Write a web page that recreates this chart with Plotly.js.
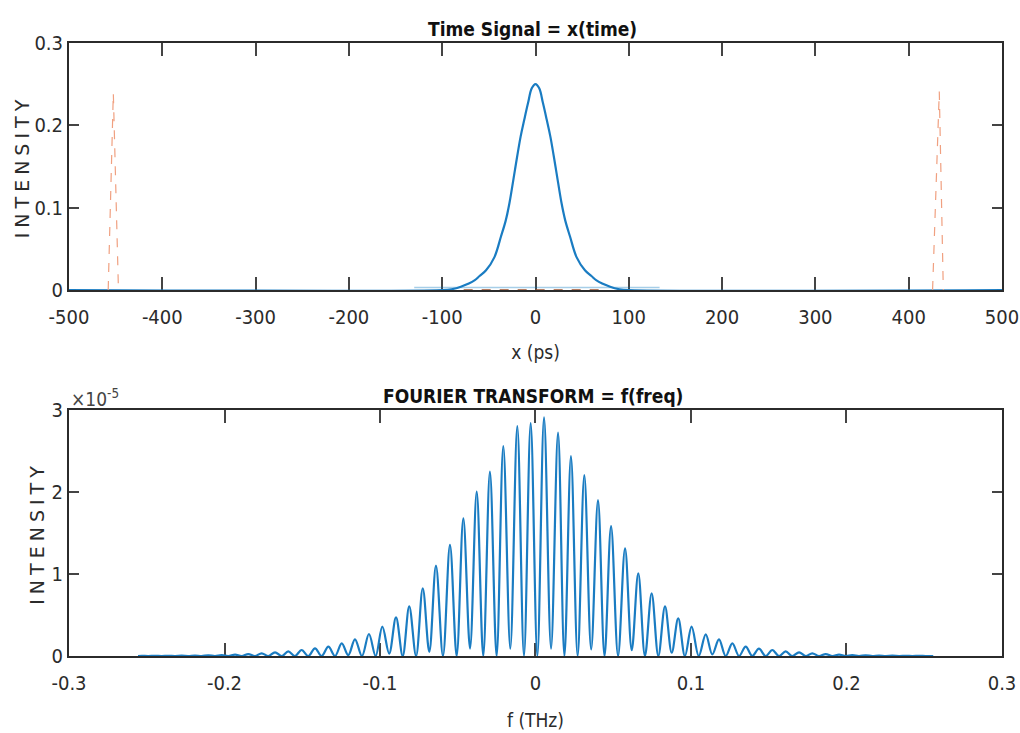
<!DOCTYPE html>
<html>
<head>
<meta charset="utf-8">
<script src="https://cdn.plot.ly/plotly-3.0.1.min.js"></script>
<style>html,body{margin:0;padding:0;background:#fff}</style>
</head>
<body>
<div id="chart" style="width:1020px;height:733px"></div>
<script>
// ---- time signal (x in ps) ----
const pulseTime = [-500, -100, -90, -80, -65, -60, -53, -44, -37, -32, -28, -22, -16, -12, -8, -4, 0, 4, 8, 12, 16, 22, 28, 32, 37, 44, 53, 60, 65, 80, 90, 100, 500];
const pulseIntensity = [0, 0, 0.001, 0.004, 0.012, 0.017, 0.024, 0.040, 0.065, 0.084, 0.105, 0.146, 0.186, 0.207, 0.227, 0.245, 0.25, 0.245, 0.227, 0.207, 0.186, 0.146, 0.105, 0.084, 0.065, 0.040, 0.024, 0.017, 0.012, 0.004, 0.001, 0, 0];

// narrow echo pulses near the window edges (dashed)
const echoTime = [-458, -452.5, -447, null, 425.6, 432.8, 437.1];
const echoIntensity = [0, 0.239, 0, null, 0, 0.241, 0];

// dashed reference segment along the baseline
const echoBaseTime = [-77, 76];
const echoBaseIntensity = [0, 0];

// faint residual trace close to zero
const residualTime = [-130, 133];
const residualIntensity = [0.003, 0.003];

// ---- spectrum (f in THz, intensity in units of 1e-5) ----
const spectrumScale = 1e-5;
const spectrumStart = -0.2556;
const spectrumEnd = 0.2558;

const peakFreq = [
  -0.2532, -0.2447, -0.2361, -0.2275, -0.2190, -0.2104, -0.2018,
  -0.1932, -0.1847, -0.1761, -0.1675, -0.1590, -0.1504, -0.1418, -0.1332, -0.1246, -0.1161,
  -0.1071, -0.0985, -0.0897, -0.0812, -0.0725, -0.0640, -0.0550, -0.0464, -0.0378, -0.0293,
  -0.0207, -0.0117, -0.0031,
  0.0055, 0.0145, 0.0228, 0.0314, 0.0402, 0.0486, 0.0576, 0.0661, 0.0747, 0.0833,
  0.0918, 0.1004, 0.1095, 0.1180, 0.1266, 0.1352, 0.1437, 0.1523, 0.1609, 0.1695,
  0.1780, 0.1866, 0.1952,
  0.2037, 0.2123, 0.2209, 0.2295, 0.2381, 0.2466
];
const peakIntensity = [
  0.001, 0.002, 0.003, 0.004, 0.006, 0.008, 0.011,
  0.016, 0.024, 0.033, 0.045, 0.057, 0.073, 0.094, 0.114, 0.155, 0.203,
  0.268, 0.357, 0.472, 0.604, 0.826, 1.101, 1.354, 1.679, 2.004, 2.248,
  2.561, 2.805, 2.841,
  2.911, 2.723, 2.439, 2.207, 1.902, 1.585, 1.313, 1.009, 0.765, 0.606,
  0.459, 0.357, 0.264, 0.203, 0.155, 0.114, 0.089, 0.073, 0.057, 0.045,
  0.033, 0.024, 0.016,
  0.011, 0.008, 0.006, 0.004, 0.002, 0.001
];

const troughFreq = [
  -0.2490, -0.2404, -0.2318, -0.2233, -0.2147, -0.2061, -0.1976, -0.1889, -0.1804, -0.1718,
  -0.1632, -0.1547, -0.1461, -0.1375, -0.1289, -0.1204, -0.1116, -0.1028, -0.0941, -0.0854,
  -0.0768, -0.0683, -0.0595, -0.0507, -0.0421, -0.0336, -0.0250, -0.0162, -0.0074,
  0.0012, 0.0100, 0.0186, 0.0271, 0.0358, 0.0444, 0.0531, 0.0619, 0.0704, 0.0790,
  0.0876, 0.0961, 0.1050, 0.1137, 0.1223, 0.1309, 0.1394, 0.1480, 0.1566, 0.1651,
  0.1738, 0.1823, 0.1909, 0.1995, 0.2080, 0.2166, 0.2252, 0.2338, 0.2423, 0.2509
];
const troughIntensity = [
  0, 0, 0, 0, 0, 0, 0, 0, 0, 0,
  0, 0, 0, 0, 0, 0.01, 0, 0, 0.03, 0,
  0, 0.05, 0, 0, 0.09, 0, 0, 0.09, 0,
  0, 0.09, 0, 0, 0.08, 0, 0, 0.07, 0, 0,
  0.04, 0, 0, 0.02, 0, 0, 0, 0, 0, 0,
  0, 0, 0, 0, 0, 0, 0, 0, 0, 0
];

// ---- tick labels ----
const timeTicks = [-500, -400, -300, -200, -100, 0, 100, 200, 300, 400, 500];
const timeTickLabels = ['-500', '-400', '-300', '-200', '-100', '0', '100', '200', '300', '400', '500'];
const pulseTicks = [0, 0.1, 0.2, 0.3];
const pulseTickLabels = ['0', '0.1', '0.2', '0.3'];
const freqTicks = [-0.3, -0.2, -0.1, 0, 0.1, 0.2, 0.3];
const freqTickLabels = ['-0.3', '-0.2', '-0.1', '0', '0.1', '0.2', '0.3'];
const spectrumTicks = [0, 1, 2, 3];
const spectrumTickLabels = ['0', '1', '2', '3'];

// merge peaks and troughs into one ordered fringe curve
const fringePts = [[spectrumStart, 0], [spectrumEnd, 0]];
peakFreq.forEach((f, i) => fringePts.push([f, peakIntensity[i]]));
troughFreq.forEach((f, i) => fringePts.push([f, troughIntensity[i]]));
fringePts.sort((a, b) => a[0] - b[0]);
const spectrumFreq = fringePts.map(p => p[0]);
const spectrumIntensity = fringePts.map(p => p[1] * spectrumScale);

const NARROW = "'Liberation Sans Narrow', 'DejaVu Sans Condensed', 'Arial Narrow', sans-serif";
const INK = '#2b2b2b';
const BLUE = '#1a7cc2';

const axisBase = {
  showgrid: false, zeroline: false, showline: true, linecolor: INK, linewidth: 2,
  mirror: 'ticks', ticks: 'inside', tickcolor: '#444', tickwidth: 2,
  tickfont: {family: NARROW, size: 20, color: INK}, layer: 'below traces',
  fixedrange: true
};

const traces = [
  {x: residualTime, y: residualIntensity, xaxis: 'x', yaxis: 'y', mode: 'lines',
   line: {color: 'rgba(0,114,189,0.35)', width: 1.5}, hoverinfo: 'skip'},
  {x: pulseTime, y: pulseIntensity, xaxis: 'x', yaxis: 'y', mode: 'lines', cliponaxis: false,
   line: {color: BLUE, width: 2.2, shape: 'spline', smoothing: 1}},
  {x: echoTime, y: echoIntensity, xaxis: 'x', yaxis: 'y', mode: 'lines', cliponaxis: false,
   line: {color: '#F0A080', width: 1.2, dash: 'dash'}},
  {x: echoBaseTime, y: echoBaseIntensity, xaxis: 'x', yaxis: 'y', mode: 'lines', cliponaxis: false,
   line: {color: '#A0522D', width: 1.6, dash: 'dash'}},
  {x: spectrumFreq, y: spectrumIntensity, xaxis: 'x2', yaxis: 'y2', mode: 'lines', cliponaxis: false,
   line: {color: BLUE, width: 2.2, shape: 'spline', smoothing: 1}}
];

const layout = {
  width: 1020, height: 733,
  margin: {l: 69, r: 18, t: 43, b: 77},
  paper_bgcolor: '#fff', plot_bgcolor: '#fff',
  showlegend: false,
  xaxis: Object.assign({}, axisBase, {
    domain: [0, 1], anchor: 'y', range: [-500, 500.01], ticklen: 13,
    tickvals: timeTicks, ticktext: timeTickLabels, ticklabelstandoff: 8,
    title: {text: 'x (ps)', font: {family: NARROW, size: 19, color: INK}, standoff: 18}
  }),
  yaxis: Object.assign({}, axisBase, {
    domain: [0.597, 1], anchor: 'x', range: [0, 0.3], ticklen: 10,
    tickvals: pulseTicks, ticktext: pulseTickLabels, ticklabelstandoff: 0,
    title: {text: 'INTENSITY', font: {family: 'DejaVu Sans', size: 19, color: INK}, standoff: 0}
  }),
  xaxis2: Object.assign({}, axisBase, {
    domain: [0, 1], anchor: 'y2', range: [-0.3, 0.30001], ticklen: 13,
    tickvals: freqTicks, ticktext: freqTickLabels, ticklabelstandoff: 8,
    title: {text: 'f (THz)', font: {family: NARROW, size: 19, color: INK}, standoff: 20}
  }),
  yaxis2: Object.assign({}, axisBase, {
    domain: [0, 0.4013], anchor: 'x2', range: [0, 3 * spectrumScale], ticklen: 10,
    tickvals: spectrumTicks.map(v => v * spectrumScale), ticktext: spectrumTickLabels, ticklabelstandoff: 0,
    title: {text: 'INTENSITY', font: {family: 'DejaVu Sans', size: 19, color: INK}, standoff: 2}
  }),
  annotations: [
    {text: '<b>Time Signal = x(time)</b>', xref: 'paper', yref: 'paper', x: 0.497, y: 1,
     xanchor: 'center', yanchor: 'bottom', yshift: 1, showarrow: false,
     font: {family: NARROW, size: 19, color: '#111'}},
    {text: '<b>FOURIER TRANSFORM = f(freq)</b>', xref: 'paper', yref: 'paper', x: 0.497, y: 0.4013,
     xanchor: 'center', yanchor: 'bottom', yshift: 1, showarrow: false,
     font: {family: NARROW, size: 19, color: '#111'}},
    {text: '×10<sup>-5</sup>', xref: 'paper', yref: 'paper', x: 0, y: 0.4013,
     xanchor: 'left', yanchor: 'bottom', yshift: -2, showarrow: false,
     font: {family: NARROW, size: 19, color: '#444'}}
  ]
};

Plotly.newPlot('chart', traces, layout, {staticPlot: true, displayModeBar: false}).then(() => {
  document.querySelectorAll('.g-ytitle text, .g-y2title text').forEach(t => {
    t.setAttribute('letter-spacing', '5');
  });
});
</script>
</body>
</html>
